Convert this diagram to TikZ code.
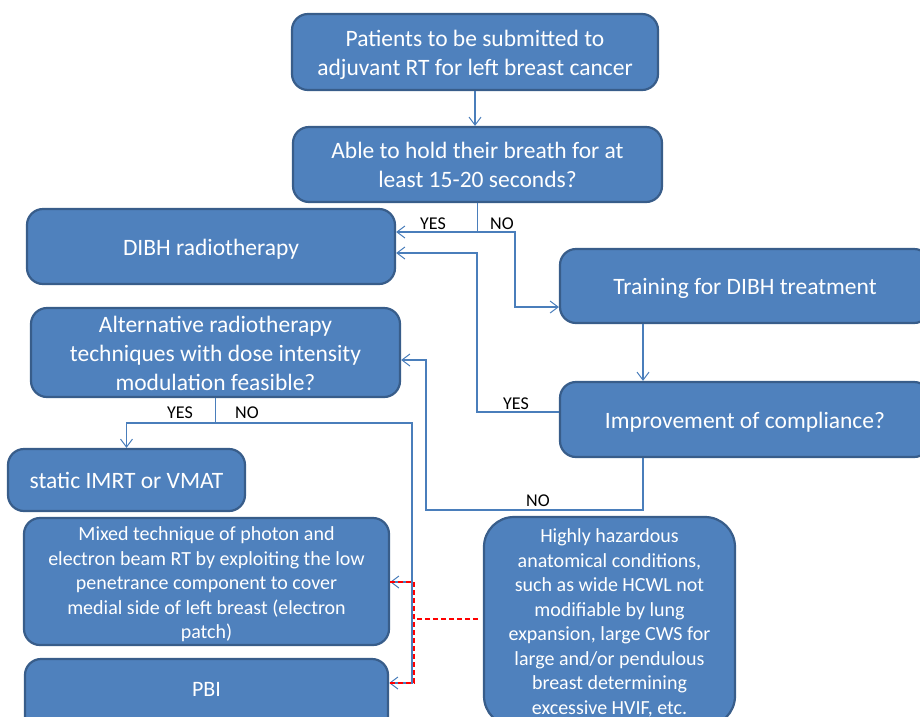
\documentclass[tikz,border=0pt]{standalone}
\usepackage{fontspec}
\setmainfont{Carlito}
\usetikzlibrary{arrows.meta}
\definecolor{boxfill}{HTML}{4F81BD}
\definecolor{boxline}{HTML}{385D8A}
\definecolor{conn}{HTML}{4A7EBB}
\newcommand\bt[2]{\raisebox{#1}[\height][\depth]{\begin{tabular}{@{}c@{}}#2\end{tabular}}}
\tikzset{
  box/.style={draw=boxline, line width=2.2pt, fill=boxfill, rounded corners=16pt,
    text=white, inner sep=0pt, font=\fontsize{23.5}{29}\selectfont},
  smallbox/.style={box, font=\fontsize{20}{24.5}\selectfont},
  conn/.style={draw=conn, line width=1.1pt},
  arr/.style={conn, -{Straight Barb[length=8pt,width=12pt,line width=1pt]}},
  reddash/.style={draw=red, line width=1.3pt, dash pattern=on 5pt off 3pt},
  lbl/.style={font=\fontsize{18}{20}\selectfont, text=black, inner sep=0pt}
}
\begin{document}
\begin{tikzpicture}[x=1pt,y=-1pt]
\useasboundingbox (0,0) rectangle (920,716);
\clip (0,0) rectangle (920,716);
% boxes
\node[box, minimum width=366pt, minimum height=76pt] (n1) at (475,52) {\bt{-3.5pt}{Patients to be submitted to\\adjuvant RT for left breast cancer}};
\node[box, minimum width=369pt, minimum height=75pt] (n2) at (477.5,164.5) {\bt{-3pt}{Able to hold their breath for at\\least 15-20 seconds?}};
\node[box, minimum width=368pt, minimum height=75pt] (n3) at (211,246.5) {\bt{-3pt}{DIBH radiotherapy}};
\node[box, minimum width=370pt, minimum height=74pt] (n4) at (745,286) {\bt{-3pt}{Training for DIBH treatment}};
\node[box, minimum width=369pt, minimum height=89pt] (n5) at (215.5,352.5) {\bt{-3pt}{Alternative radiotherapy\\techniques with dose intensity\\modulation feasible?}};
\node[box, minimum width=370pt, minimum height=75pt] (n6) at (745,419.5) {\bt{-3pt}{Improvement of compliance?}};
\node[box, minimum width=237pt, minimum height=62pt] (n7) at (126.5,480) {\bt{-3pt}{static IMRT or VMAT}};
\node[smallbox, minimum width=365pt, minimum height=127pt] (n8) at (206.5,581.5) {\bt{-3.5pt}{Mixed technique of photon and\\electron beam RT by exploiting the low\\penetrance component to cover\\medial side of left breast (electron\\patch)}};
\node[box, minimum width=363pt, minimum height=76pt] (n9) at (206.5,697) {\bt{6pt}{\fontsize{22}{26}\selectfont PBI}};
\node[smallbox, rounded corners=30pt, minimum width=251pt, minimum height=209pt] (n10) at (609.5,621.5) {\bt{-2pt}{Highly hazardous\\anatomical conditions,\\such as wide HCWL not\\modifiable by lung\\expansion, large CWS for\\large and/or pendulous\\breast determining\\excessive HVIF, etc.}};
% junction coordinates
\coordinate (j1) at (478,232);
\coordinate (j2) at (515,307);
\coordinate (j3) at (477,412);
\coordinate (j4) at (477,253);
\coordinate (j5) at (643,0);
\coordinate (j6) at (426,510);
\coordinate (j7) at (426,360);
\coordinate (j8) at (215,423);
\coordinate (j9) at (412,423);
\coordinate (j10) at (412,683);
\coordinate (j11) at (412,582);
\coordinate (r0) at (478,619);
\coordinate (r1) at (414,582);
\coordinate (r2) at (414,683);
% connectors
\draw[arr] (n1.south) -- (n1.south |- n2.north);
\draw[arr] (n2.south) -- (n2.south |- j1) -- (n3.east |- j1);
\draw[arr] (n2.south |- j1) -- (j2 |- j1) -- (j2) -- (n4.west |- j2);
\draw[arr] (n6.west |- j3) -- (j3) -- (j4) -- (n3.east |- j4);
\draw[arr] (n4.south -| j5) -- (n6.north -| j5);
\draw[arr] (n6.south -| j5) -- (j6 -| j5) -- (j6) -- (j7) -- (n5.east |- j7);
\draw[arr] (n5.south) -- (n5.south |- j8) -- (n7.north |- j8) -- (n7.north);
\draw[arr] (j8) -- (j9) -- (j10) -- (n9.east |- j10);
\draw[arr] (j11) -- (n8.east |- j11);
% red dashed
\draw[reddash] (r0) -- (r1 |- r0);
\draw[reddash] (n8.east |- r1) -- (r1) -- (r2) -- (n9.east |- r2);
% labels
\node[lbl] (y1) at (433,224) {YES};
\node[lbl] (no1) at (502,224) {NO};
\node[lbl] (y2) at (516,404) {YES};
\node[lbl] (no2) at (538,501) {NO};
\node[lbl] (y3) at (180,413) {YES};
\node[lbl] (no3) at (247,413) {NO};
\end{tikzpicture}
\end{document}
